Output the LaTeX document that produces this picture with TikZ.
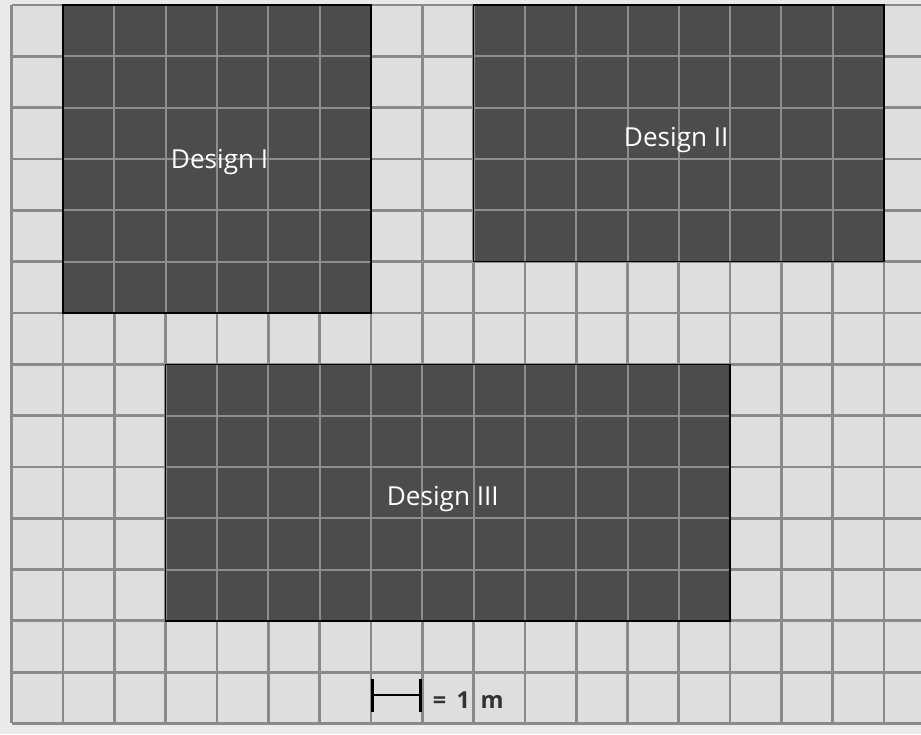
\documentclass[tikz,border=0pt]{standalone}
\usepackage{fontspec}
\setsansfont{Open Sans}
\usetikzlibrary{arrows.meta}
\definecolor{paper}{HTML}{EAEAEA}
\definecolor{cell}{HTML}{DEDEDE}
\definecolor{gridline}{HTML}{8A8A8A}
\definecolor{plot}{HTML}{4C4C4C}
\definecolor{plotline}{HTML}{8E8E8E}
\tikzset{
  basegrid/.style={gridline, line width=1.5pt},
  plotfill/.style={fill=plot},
  plotgrid/.style={plotline, line width=1.1pt},
  plotedge/.style={draw=black, line width=0.8pt},
  designlabel/.style={text=white, font=\sffamily\fontsize{14.5}{17}\selectfont},
  scalebar/.style={black, line width=1.1pt, {Bar[width=6.4mm,line width=1.6pt]}-{Bar[width=6.4mm,line width=1.6pt]}},
  scalelabel/.style={font=\sffamily\bfseries\fontsize{13}{15}\selectfont, text=black!80}
}
\begin{document}
\begin{tikzpicture}
    \useasboundingbox (-0.23,0.1) rectangle (17.72,-14.21);
    \fill[paper] (-0.23,0.1) rectangle (17.72,-14.21);
    \fill[cell] (0,0) rectangle (17.72,-14);

    % base grid, 1 m squares
    \foreach \y in {0,...,14}
      \draw[basegrid] (0,-\y) -- (17.72,-\y);
    \foreach \x in {0,...,17}
      \draw[basegrid] (\x,0) -- (\x,-14);

    % Design I
    \fill[plotfill] (1,0) rectangle (7,-6);
    \draw[plotgrid] (1,0) grid (7,-6);
    \draw[plotedge] (1,0) rectangle (7,-6);
    \node[designlabel] (designI) at (4.05,-3.05) {Design I};

    % Design II
    \fill[plotfill] (9,0) rectangle (17,-5);
    \draw[plotgrid] (9,0) grid (17,-5);
    \draw[plotedge] (9,0) rectangle (17,-5);
    \node[designlabel] (designII) at (12.95,-2.62) {Design II};

    % Design III
    \fill[plotfill] (3,-7) rectangle (14,-12);
    \draw[plotgrid] (3,-7) grid (14,-12);
    \draw[plotedge] (3,-7) rectangle (14,-12);
    \node[designlabel] (designIII) at (8.4,-9.62) {Design III};

    % scale
    \coordinate (barL) at (7,-13.45);
    \coordinate (barR) at (8,-13.45);
    \draw[scalebar] (barL) -- (barR);
    \node[scalelabel, anchor=west] (scale) at (8.08,-13.55) {=\hspace{0.45em}1\hspace{0.45em}m};
\end{tikzpicture}
\end{document}
